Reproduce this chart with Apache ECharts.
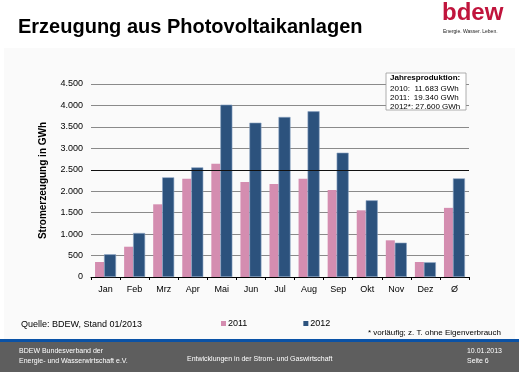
<!DOCTYPE html>
<html><head><meta charset="utf-8">
<script src="https://cdn.jsdelivr.net/npm/echarts@6/dist/echarts.min.js"></script>
<style>html,body{margin:0;padding:0;background:#fff}#c{width:519px;height:372px}</style>
</head><body><div id="c"></div>
<script>
const categories = ['Jan','Feb','Mrz','Apr','Mai','Jun','Jul','Aug','Sep','Okt','Nov','Dez','Ø'];
const values2011 = [350, 706, 1695, 2292, 2642, 2215, 2168, 2292, 2028, 1555, 855, 350, 1612];
const values2012 = [530, 1026, 2324, 2557, 4018, 3598, 3731, 3863, 2898, 1788, 800, 343, 2300];
const yTicks = [0, 500, 1000, 1500, 2000, 2500, 3000, 3500, 4000, 4500];
const boxLines = ['2010:  11.683 GWh', '2011:  19.340 GWh', '2012*: 27.600 GWh'];

const chart = echarts.init(document.getElementById('c'), null, {renderer:'canvas'});
const fmt = v => v === 0 ? '0' : (Math.floor(v/1000) > 0 ? Math.floor(v/1000) + '.' + String(v%1000).padStart(3,'0') : String(v));
const F = 'Liberation Sans, Arial, sans-serif';
chart.setOption({
  backgroundColor: '#ffffff',
  animation: false,
  textStyle: {fontFamily: F},
  grid: {left: 91, right: 50, top: 84, bottom: 95, containLabel: false},
  xAxis: {
    type: 'category', data: categories,
    axisLine: {lineStyle: {color: '#000', width: 1}},
    axisTick: {show: true, alignWithLabel: false, length: 3, lineStyle: {color: '#000'}},
    axisLabel: {color: '#000', fontSize: 9, margin: 8, fontFamily: F}
  },
  yAxis: {
    type: 'value', min: 0, max: 4500, interval: 500,
    name: 'Stromerzeugung in GWh', nameLocation: 'middle', nameGap: 43, nameRotate: 90,
    nameTextStyle: {fontSize: 10, fontWeight: 'bold', color: '#000', fontFamily: F},
    axisLine: {show: false}, axisTick: {show: false},
    splitLine: {lineStyle: {color: '#8a8a8a', width: 1}},
    axisLabel: {color: '#000', fontSize: 9, margin: 8, fontFamily: F, formatter: v => fmt(v)}
  },
  legend: {
    data: ['2011', '2012'], left: 216, top: 314, itemWidth: 5, itemHeight: 5, itemGap: 56,
    icon: 'rect', itemStyle: {borderWidth: 0},
    textStyle: {fontSize: 9, color: '#000', fontFamily: F, padding: [0,0,0,-3]}
  },
  series: [
    {name: '2011', type: 'bar', data: values2011, barWidth: 9, barGap: '0%',
     itemStyle: {color: '#d48db0'}},
    {name: '2012', type: 'bar', data: values2012, barWidth: 12, barGap: '0%',
     itemStyle: {color: '#2c527d', borderColor: '#8aa3c2', borderWidth: 0.6},
     markLine: {silent: true, symbol: 'none', label: {show: false},
       lineStyle: {color: '#111', width: 1, type: 'solid'}, data: [{yAxis: 2500}]}}
  ],
  graphic: [
    {type: 'rect', z: -10, shape: {x: 4, y: 48, width: 511, height: 291}, style: {fill: '#fafafa'}},
    {type: 'text', left: 18, top: 17, style: {text: 'Erzeugung aus Photovoltaikanlagen', font: 'bold 20px ' + F, fill: '#000'}},
    {type: 'text', left: 442, top: 1, style: {text: 'bdew', font: 'bold 24px ' + F, fill: '#c0143c'}},
    {type: 'text', left: 443, top: 29, style: {text: 'Energie. Wasser. Leben.', font: '5px ' + F, fill: '#222'}},
    {type: 'rect', z: 10, shape: {x: 386, y: 73, width: 80, height: 37}, style: {fill: '#fff', stroke: '#9a9a9a', lineWidth: 0.8}},
    {type: 'text', z: 11, left: 390, top: 74, style: {text: 'Jahresproduktion:', font: 'bold 8px ' + F, fill: '#000'}},
    {type: 'text', z: 11, left: 390, top: 84, style: {text: boxLines.join('\n'), font: '8px ' + F, lineHeight: 9, fill: '#000'}},
    {type: 'text', left: 21, top: 320, style: {text: 'Quelle: BDEW, Stand 01/2013', font: '9px ' + F, fill: '#000'}},
    {type: 'text', right: 18, top: 329, style: {text: '* vorläufig; z. T. ohne Eigenverbrauch', font: '8px ' + F, fill: '#000', align: 'right'}},
    {type: 'rect', shape: {x: 0, y: 339, width: 519, height: 3}, style: {fill: '#0a52a6'}},
    {type: 'rect', shape: {x: 0, y: 342, width: 519, height: 30}, style: {fill: '#5e5e5e'}},
    {type: 'text', left: 19, top: 346, style: {text: 'BDEW Bundesverband der\nEnergie- und Wasserwirtschaft e.V.', font: '7px ' + F, lineHeight: 10, fill: '#fff'}},
    {type: 'text', left: 187, top: 356, style: {text: 'Entwicklungen in der Strom- und Gaswirtschaft', font: '7px ' + F, fill: '#fff'}},
    {type: 'text', right: 17, top: 346, style: {text: '10.01.2013\nSeite 6', font: '7px ' + F, lineHeight: 10, fill: '#fff', align: 'right'}}
  ]
});
</script></body></html>
